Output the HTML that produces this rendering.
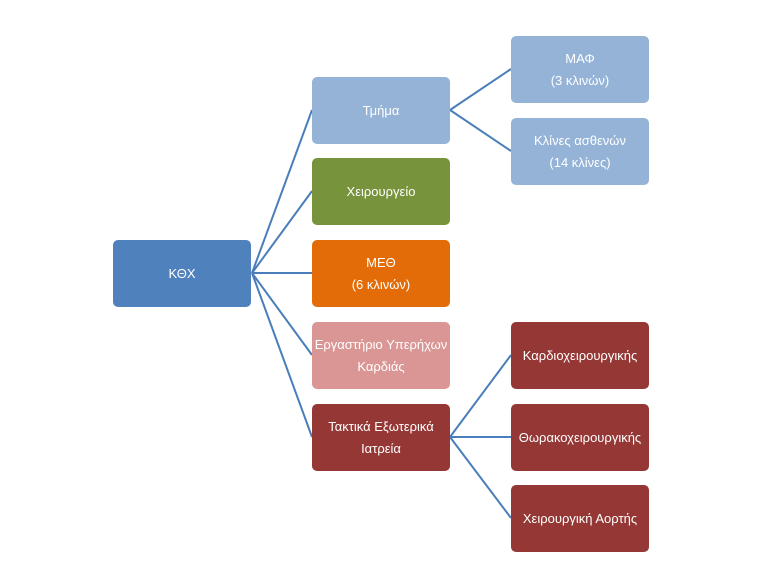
<!DOCTYPE html>
<html><head><meta charset="utf-8"><style>
body{margin:0;width:768px;height:576px;background:#fff;position:relative;overflow:hidden;font-family:"Liberation Sans","DejaVu Sans",sans-serif}
.b{position:absolute;width:138px;height:67px;border-radius:5px;color:#fff;font-size:13px;display:flex;align-items:center;justify-content:center;text-align:center;line-height:22px}
svg{position:absolute;left:0;top:0}
</style></head><body>
<svg width="768" height="576"><g stroke="#4a7ebb" stroke-width="2" fill="none">
<line x1="252" y1="273" x2="312" y2="110"/><line x1="252" y1="273" x2="312" y2="191"/><line x1="252" y1="273" x2="312" y2="273"/><line x1="252" y1="273" x2="312" y2="355"/><line x1="252" y1="273" x2="312" y2="437"/>
<line x1="450" y1="110" x2="511" y2="69"/><line x1="450" y1="110" x2="511" y2="151"/>
<line x1="450" y1="437" x2="511" y2="355"/><line x1="450" y1="437" x2="511" y2="437"/><line x1="450" y1="437" x2="511" y2="518"/>
</g></svg>
<div class="b" style="left:113px;top:240px;background:#4f81bd">ΚΘΧ</div>
<div class="b" style="left:312px;top:77px;background:#95b3d7">Τμήμα</div>
<div class="b" style="left:312px;top:158px;background:#77933c">Χειρουργείο</div>
<div class="b" style="left:312px;top:240px;background:#e36c09">ΜΕΘ<br>(6 κλινών)</div>
<div class="b" style="left:312px;top:322px;background:#d99694">Εργαστήριο Υπερήχων<br>Καρδιάς</div>
<div class="b" style="left:312px;top:404px;background:#953735">Τακτικά Εξωτερικά<br>Ιατρεία</div>
<div class="b" style="left:511px;top:36px;background:#95b3d7">ΜΑΦ<br>(3 κλινών)</div>
<div class="b" style="left:511px;top:118px;background:#95b3d7">Κλίνες ασθενών<br>(14 κλίνες)</div>
<div class="b" style="left:511px;top:322px;background:#953735">Καρδιοχειρουργικής</div>
<div class="b" style="left:511px;top:404px;background:#953735">Θωρακοχειρουργικής</div>
<div class="b" style="left:511px;top:485px;background:#953735">Χειρουργική Αορτής</div>
</body></html>
